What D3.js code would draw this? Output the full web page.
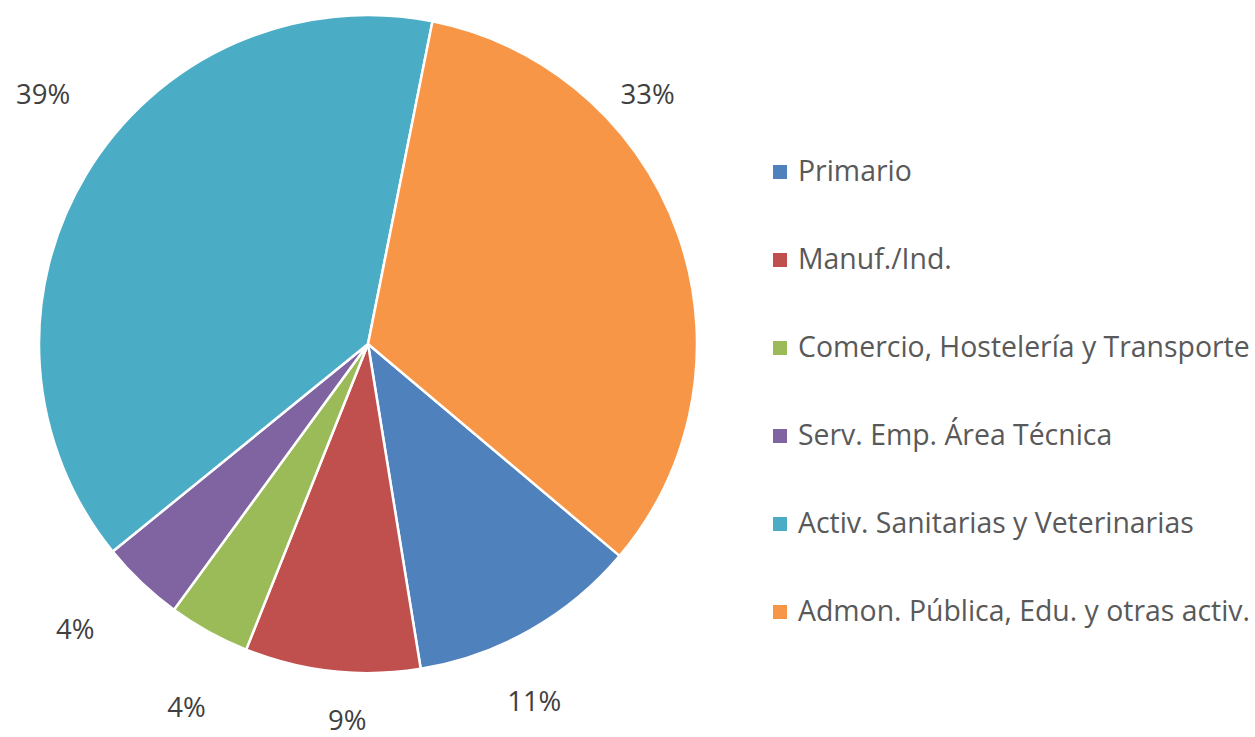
<!DOCTYPE html>
<html>
<head>
<meta charset="utf-8">
<script src="https://cdn.jsdelivr.net/npm/d3@7"></script>
<style>
  html, body { margin: 0; padding: 0; background: #fff; }
  svg { display: block; font-family: "Open Sans", sans-serif; }
</style>
</head>
<body>
<div class="chart"></div>
<script>
const categories = [
  'Primario',
  'Manuf./Ind.',
  'Comercio, Hostelería y Transporte',
  'Serv. Emp. Área Técnica',
  'Activ. Sanitarias y Veterinarias',
  'Admon. Pública, Edu. y otras activ.'
];
const values = [11.3, 8.6, 4.0, 4.1, 39.0, 33.0];
const colors = ['#4F81BD', '#C0504D', '#9BBB59', '#8064A2', '#4BACC6', '#F79646'];

// where the percentage labels sit: turn from slice middle (deg) and distance from centre (px)
const labelTurn = [4.6, -3.1, -2.4, 2.2, 6.5, -22.5];
const labelDist = [394, 377, 406, 409, 410, 375];

const width = 1255;
const height = 737;
const cx = 368, cy = 344, radius = 329;
const startDeg = 130.1;

const svg = d3.select('.chart').append('svg')
    .attr('width', width)
    .attr('height', height);

const g = svg.append('g')
    .attr('transform', `translate(${cx},${cy})`);

const rad = d => d * Math.PI / 180;

const pie = d3.pie()
    .sort(null)
    .value(d => d.value)
    .startAngle(rad(startDeg))
    .endAngle(rad(startDeg) + 2 * Math.PI);

const data = categories.map((c, i) => ({name: c, value: values[i], i}));
const arcs = pie(data);
const total = d3.sum(values);

const arc = d3.arc().innerRadius(0).outerRadius(radius);

g.selectAll('path.slice')
  .data(arcs)
  .enter().append('path')
    .attr('class', 'slice')
    .attr('d', arc)
    .attr('fill', d => colors[d.data.i])
    .attr('stroke', '#fff')
    .attr('stroke-width', 2.5)
    .attr('stroke-linejoin', 'round');

g.selectAll('text.pct')
  .data(arcs)
  .enter().append('text')
    .attr('class', 'pct')
    .attr('x', d => {
      const a = (d.startAngle + d.endAngle) / 2 + rad(labelTurn[d.data.i]);
      return labelDist[d.data.i] * Math.sin(a);
    })
    .attr('y', d => {
      const a = (d.startAngle + d.endAngle) / 2 + rad(labelTurn[d.data.i]);
      return -labelDist[d.data.i] * Math.cos(a);
    })
    .attr('dy', '0.36em')
    .attr('text-anchor', 'middle')
    .attr('font-size', 27.5)
    .attr('fill', '#404040')
    .text(d => Math.round(d.value / total * 100) + '%');

// legend
const legendY = d3.scalePoint()
    .domain(categories)
    .range([172, 612]);

const legend = svg.append('g')
    .attr('class', 'legend');

const item = legend.selectAll('g')
  .data(categories)
  .enter().append('g')
    .attr('transform', d => `translate(773,${legendY(d)})`);

item.append('rect')
    .attr('x', 0)
    .attr('y', -7)
    .attr('width', 14)
    .attr('height', 14)
    .attr('fill', (d, i) => colors[i]);

item.append('text')
    .attr('x', 25)
    .attr('y', 8.5)
    .attr('font-size', 28.4)
    .attr('fill', '#595959')
    .text(d => d);
</script>
</body>
</html>
